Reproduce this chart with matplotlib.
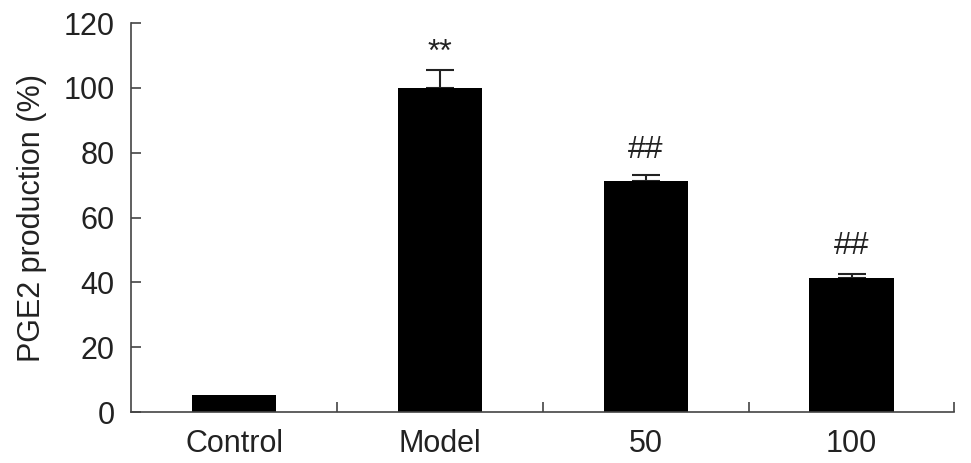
import numpy as np
import matplotlib
matplotlib.use("Agg")
from matplotlib import pyplot as plt

groups = ["Control", "Model", "50", "100"]
means = [5.2, 100.0, 71.2, 41.4]
errs = [0.0, 5.5, 1.8, 1.2]
marks = ["", "**", "##", "##"]
mark_y = [0, 106.2, 76.2, 46.5]

plt.rcParams['font.family'] = ['Liberation Sans', 'DejaVu Sans']

fig = plt.figure(figsize=(9.71, 4.63), dpi=100)
ax = fig.add_axes([0.135, 0.11, 0.848, 0.84])

x = np.arange(len(groups))
ax.bar(x, means, width=0.41, color='black', zorder=2)
ax.errorbar(x[1:], means[1:], yerr=[np.zeros(3), errs[1:]], fmt='none',
            ecolor='#222222', elinewidth=1.5, capsize=10, capthick=1.5, zorder=1)

for xi, m, yy in zip(x, marks, mark_y):
    if m:
        ax.text(xi, yy, m, ha='center', va='bottom', fontsize=23, color='#222222')

ax.set_xlim(-0.5, 3.5)
ax.set_ylim(0, 120)
ax.set_yticks(np.arange(0, 121, 20))
ax.set_xticks(x)
ax.set_xticklabels(groups)
ax.set_xticks(x + 0.5, minor=True)
ax.tick_params(axis='x', which='major', length=0, labelsize=22, pad=12, colors='#222222')
ax.tick_params(axis='x', which='minor', direction='in', length=7, width=1.2, color='#444444')
ax.tick_params(axis='y', direction='in', length=7, width=1.2, labelsize=22, pad=12,
               color='#444444', labelcolor='#222222')
ax.set_ylabel("PGE2 production (%)", fontsize=22, color='#222222', labelpad=12)

for s in ['top', 'right']:
    ax.spines[s].set_visible(False)
for s in ['left', 'bottom']:
    ax.spines[s].set_color('#444444')
    ax.spines[s].set_linewidth(1.2)

fig.savefig("out.png", dpi=100)
